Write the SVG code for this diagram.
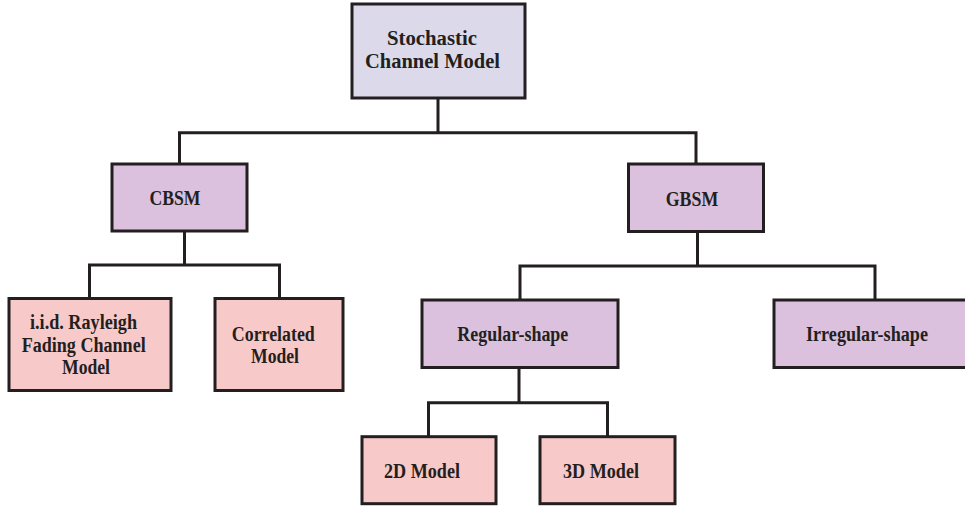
<svg xmlns="http://www.w3.org/2000/svg" width="965" height="506" viewBox="0 0 965 506">
<style>
.box{stroke:#231f20;stroke-width:3}
.top{fill:#dcdaea}
.mid{fill:#dbc1dd}
.leaf{fill:#f8c9c9}
.t{font-family:"Liberation Serif","Times New Roman",serif;font-weight:bold;font-size:20px;fill:#231f20;text-anchor:middle}
.c{fill:none;stroke:#231f20;stroke-width:3;stroke-linejoin:miter;stroke-linecap:square}
</style>
<rect width="965" height="506" fill="#ffffff"/>
<g id="connectors">
<path class="c" d="M438,98 V132.7 M179.5,164 V132.7 H696 V164"/>
<path class="c" d="M184.5,231 V265 M89.5,298 V265 H279.5 V298"/>
<path class="c" d="M697.5,231 V266 M520,300 V266 H875 V300"/>
<path class="c" d="M519,367.5 V402.7 M428.5,436.7 V402.7 H607.5 V436.7"/>
</g>
<g id="stochastic">
<rect class="box top" x="352" y="4" width="173" height="94"/>
<text class="t" x="432" y="45" textLength="90" lengthAdjust="spacingAndGlyphs">Stochastic</text>
<text class="t" x="432.5" y="68" textLength="135" lengthAdjust="spacingAndGlyphs">Channel Model</text>
</g>
<g id="cbsm">
<rect class="box mid" x="112" y="164" width="135" height="67"/>
<text class="t" x="175" y="204.5" textLength="51" lengthAdjust="spacingAndGlyphs">CBSM</text>
</g>
<g id="gbsm">
<rect class="box mid" x="628.5" y="164" width="135" height="67.5"/>
<text class="t" x="692" y="205.5" textLength="52.5" lengthAdjust="spacingAndGlyphs">GBSM</text>
</g>
<g id="iid">
<rect class="box leaf" x="9" y="298.5" width="162" height="92"/>
<text class="t" x="83.5" y="329" textLength="107" lengthAdjust="spacingAndGlyphs">i.i.d. Rayleigh</text>
<text class="t" x="83.7" y="351.7" textLength="124" lengthAdjust="spacingAndGlyphs">Fading Channel</text>
<text class="t" x="86" y="373.5" textLength="48" lengthAdjust="spacingAndGlyphs">Model</text>
</g>
<g id="correlated">
<rect class="box leaf" x="215" y="298.5" width="128" height="92"/>
<text class="t" x="273.3" y="340.7" textLength="83" lengthAdjust="spacingAndGlyphs">Correlated</text>
<text class="t" x="275" y="362.7" textLength="48" lengthAdjust="spacingAndGlyphs">Model</text>
</g>
<g id="regular">
<rect class="box mid" x="422" y="300" width="196" height="67.5"/>
<text class="t" x="512.8" y="341" textLength="111" lengthAdjust="spacingAndGlyphs">Regular-shape</text>
</g>
<g id="irregular">
<rect class="box mid" x="774" y="300" width="195" height="67.5"/>
<text class="t" x="867" y="341" textLength="122" lengthAdjust="spacingAndGlyphs">Irregular-shape</text>
</g>
<g id="model2d">
<rect class="box leaf" x="362" y="436.7" width="134" height="67"/>
<text class="t" x="422" y="477.7" textLength="76" lengthAdjust="spacingAndGlyphs">2D Model</text>
</g>
<g id="model3d">
<rect class="box leaf" x="540" y="436.7" width="135" height="67"/>
<text class="t" x="601" y="477.7" textLength="76" lengthAdjust="spacingAndGlyphs">3D Model</text>
</g>
</svg>
